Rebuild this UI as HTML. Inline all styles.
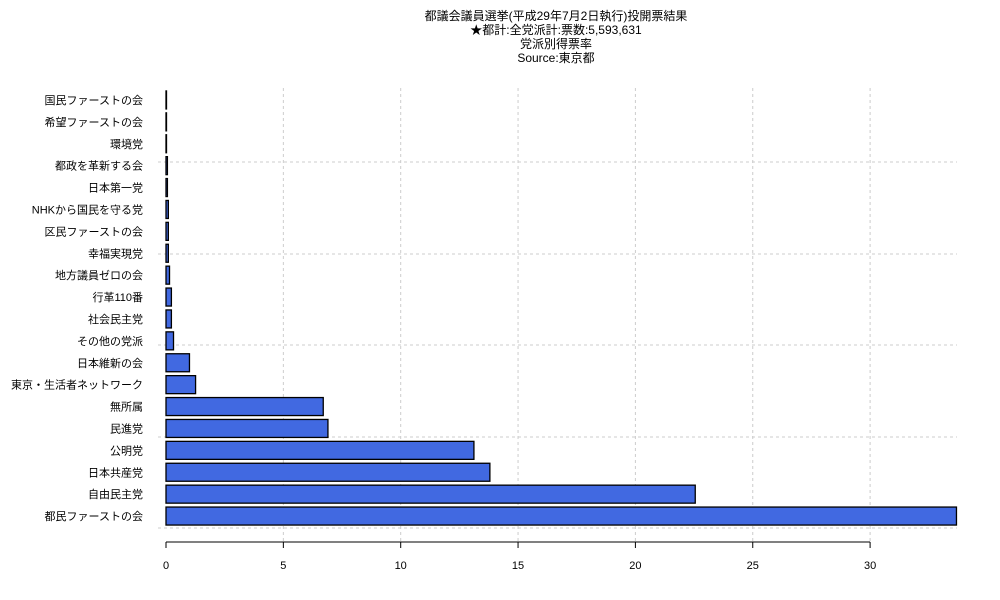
<!DOCTYPE html>
<html><head><meta charset="utf-8"><style>
html,body{margin:0;padding:0;background:#fff;}
svg{display:block;font-family:"Liberation Sans","Noto Sans CJK JP",sans-serif;}
</style></head><body>
<svg id="chart" width="1000" height="600">
<g font-size="12" text-anchor="middle" fill="#000">
<text x="556" y="20">都議会議員選挙(平成29年7月2日執行)投開票結果</text>
<text x="556" y="34">★都計:全党派計:票数:5,593,631</text>
<text x="556" y="48">党派別得票率</text>
<text x="556" y="62">Source:東京都</text>
</g>
<g id="grid"></g>
<g id="bars"></g>
<g id="ylabels"></g>
<g id="xaxis"></g>
</svg>
<script>
const categories=["国民ファーストの会","希望ファーストの会","環境党","都政を革新する会","日本第一党","NHKから国民を守る党","区民ファーストの会","幸福実現党","地方議員ゼロの会","行革110番","社会民主党","その他の党派","日本維新の会","東京・生活者ネットワーク","無所属","民進党","公明党","日本共産党","自由民主党","都民ファーストの会"];
const values=[0.01,0.01,0.01,0.06,0.06,0.1,0.1,0.1,0.15,0.23,0.23,0.32,1.0,1.26,6.7,6.9,13.12,13.8,22.55,33.68];
const xTicks=[0,5,10,15,20,25,30];
const NS="http://www.w3.org/2000/svg";
const x0=166,kx=23.47,yTop=89,band=21.9;
const X=v=>x0+v*kx;
const Y=i=>yTop+band*(i+0.5);
function mk(t,a,p){const e=document.createElementNS(NS,t);for(const k in a)e.setAttribute(k,a[k]);p.appendChild(e);return e;}
const grid=document.getElementById('grid');
xTicks.forEach(t=>{if(t===0)return;const l=mk('line',{x1:X(t),x2:X(t),y1:88,y2:542,stroke:'#ccc','stroke-dasharray':'3,3'},grid);

});
[162,254,345,437,528].forEach(y=>{const l=mk('line',{x1:158,x2:957,y1:y,y2:y,stroke:'#ccc','stroke-dasharray':'3,3'},grid);

});
const bars=document.getElementById('bars'),yl=document.getElementById('ylabels');
categories.forEach((c,i)=>{
const r=mk('rect',{x:X(0),y:Y(i)-9,width:Math.max(0.5,X(values[i])-X(0)),height:18,fill:'#4169e1',stroke:'#000','stroke-width':1.3},bars);


const t=mk('text',{x:143,y:Y(i)+4,'text-anchor':'end','font-size':11,fill:'#000'},yl);t.textContent=c;


});
const xa=document.getElementById('xaxis');
mk('line',{x1:X(0),x2:X(30),y1:542,y2:542,stroke:'#000','stroke-width':1},xa);
xTicks.forEach(t=>{mk('line',{x1:X(t),x2:X(t),y1:542,y2:548,stroke:'#000'},xa);
const tx=mk('text',{x:X(t),y:569,'text-anchor':'middle','font-size':11,fill:'#000'},xa);tx.textContent=t;

});
</script>
</body></html>
